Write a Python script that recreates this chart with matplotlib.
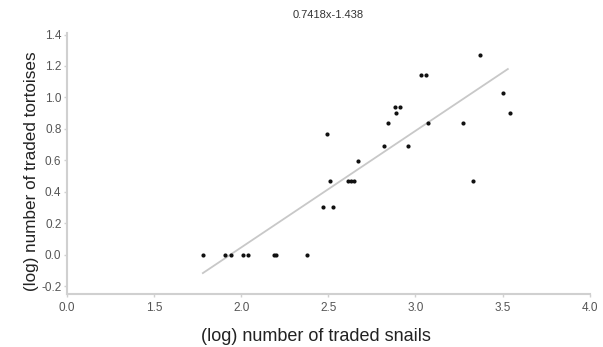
import matplotlib.pyplot as plt

plt.rcParams['font.family'] = ['Liberation Sans', 'DejaVu Sans']

# (log) snails and (log) tortoises
snails = [1.78, 1.906, 1.94, 2.01, 2.04, 2.19, 2.20, 2.38,
          2.47, 2.525, 2.51, 2.61, 2.63, 2.645, 3.33,
          2.49, 2.67, 2.82, 2.84, 2.89, 2.88, 2.91, 2.96,
          3.03, 3.06, 3.07, 3.27, 3.37, 3.50, 3.54]
tortoises = [0.0, 0.0, 0.0, 0.0, 0.0, 0.0, 0.0, 0.0,
             0.30, 0.30, 0.47, 0.47, 0.47, 0.47, 0.47,
             0.77, 0.595, 0.69, 0.835, 0.90, 0.94, 0.94, 0.69,
             1.14, 1.14, 0.835, 0.835, 1.27, 1.03, 0.90]

slope = 0.7418
intercept = -1.438
fit_x = [1.78, 3.53]

x_ticks = [1.0, 1.5, 2.0, 2.5, 3.0, 3.5, 4.0]
x_labels = ['0.0', '1.5', '2.0', '2.5', '3.0', '3.5', '4.0']
y_ticks = [-0.2, 0.0, 0.2, 0.4, 0.6, 0.8, 1.0, 1.2, 1.4]

fig = plt.figure(figsize=(6.03, 3.47), dpi=100)
ax = fig.add_axes([0.111, 0.153, 0.867, 0.752])

fit_y = [slope * v + intercept for v in fit_x]
ax.plot(fit_x, fit_y, color='#c8c8c8', linewidth=1.3, zorder=1)
ax.scatter(snails, tortoises, s=9, color='#111111', zorder=2, linewidths=0)

ax.set_xlim(1.0, 4.0)
ax.set_ylim(-0.25, 1.41)
ax.set_xticks(x_ticks)
ax.set_xticklabels(x_labels)
ax.set_yticks(y_ticks)
ax.set_yticklabels(['%.1f' % v for v in y_ticks])

for s in ['top', 'right']:
    ax.spines[s].set_visible(False)
for s in ['left', 'bottom']:
    ax.spines[s].set_color('#d0d0d0')
    ax.spines[s].set_linewidth(1.5)
ax.tick_params(colors='#d0d0d0', labelcolor='#555555', labelsize=8.5, length=2, width=1)
ax.tick_params(axis='y', pad=2)

ax.set_title('0.7418x-1.438', fontsize=8, color='#333333', pad=11)
ax.set_xlabel('(log) number of traded snails', fontsize=13, color='#222222', va='center')
ax.xaxis.set_label_coords(0.477, -0.165)
ax.set_ylabel('(log) number of traded tortoises', fontsize=12.3, color='#222222', va='center')
ax.yaxis.set_label_coords(-0.067, 0.471)

plt.savefig('out.png', dpi=100)
